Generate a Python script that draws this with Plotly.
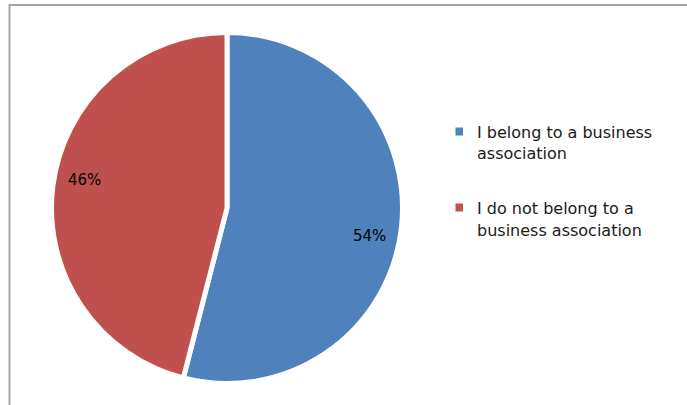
import math
import plotly.graph_objects as go

# Survey responses: membership in a business association
categories = ["I belong to a business association",
              "I do not belong to a business association"]
shares = [54, 46]
colors = ["#4F81BD", "#C0504D"]
# Wrapped legend text, one entry per category
legend_lines = [["I belong to a business", "association"],
                ["I do not belong to a", "business association"]]

W, H = 687, 405
CX, CY = 227.0, 208.0      # pie centre, px from top-left
R = 175.5                  # outer radius incl. white slice border

fig = go.Figure()
fig.add_trace(go.Pie(
    labels=categories,
    values=shares,
    sort=False,
    direction="clockwise",
    rotation=0,
    marker=dict(colors=colors, line=dict(color="white", width=5)),
    textinfo="none",
    hoverinfo="label+percent",
    showlegend=False,
    domain=dict(x=[(CX - R) / W, (CX + R) / W],
                y=[(H - CY - R) / H, (H - CY + R) / H]),
))

annotations = []
shapes = []

# Percentage labels placed inside each slice at its mid angle
total = sum(shares)
cum = 0.0
for v in shares:
    mid = (cum + v / 2) / total * 2 * math.pi
    cum += v
    rr = 0.82 * R
    px = CX + rr * math.sin(mid)
    py = CY - rr * math.cos(mid) + (10 if math.sin(mid) > 0 else -10)
    annotations.append(dict(
        x=px / W, y=1 - py / H, xref="paper", yref="paper",
        text=f"{v / total * 100:.0f}%", showarrow=False,
        font=dict(family="DejaVu Sans", size=15, color="black"),
        xanchor="center", yanchor="middle"))

# Legend drawn as swatches plus wrapped text lines
legend_top = [131.5, 207.5]
line_gap = 22
for i, lines in enumerate(legend_lines):
    y0 = legend_top[i]
    shapes.append(dict(type="rect", xref="paper", yref="paper",
                       x0=455.5 / W, x1=463 / W,
                       y0=1 - (y0 + 4) / H, y1=1 - (y0 - 4) / H,
                       fillcolor=colors[i], line=dict(width=0)))
    for j, t in enumerate(lines):
        yy = y0 + j * line_gap
        annotations.append(dict(
            x=474.5 / W, y=1 - (yy + 0.5) / H, xref="paper", yref="paper",
            text=t, showarrow=False,
            font=dict(family="DejaVu Sans", size=16, color="#1a1a1a"),
            xanchor="left", yanchor="middle"))

# Chart frame (runs off the right and bottom edges)
shapes.append(dict(type="rect", xref="paper", yref="paper",
                   x0=9.5 / W, y0=-0.05, x1=1.05, y1=1 - 5 / H,
                   line=dict(color="#A6A6A6", width=2),
                   fillcolor="rgba(0,0,0,0)"))

fig.update_layout(
    width=W, height=H,
    margin=dict(l=0, r=0, t=0, b=0),
    paper_bgcolor="white", plot_bgcolor="white",
    annotations=annotations, shapes=shapes,
)

fig.write_html("out.html")
